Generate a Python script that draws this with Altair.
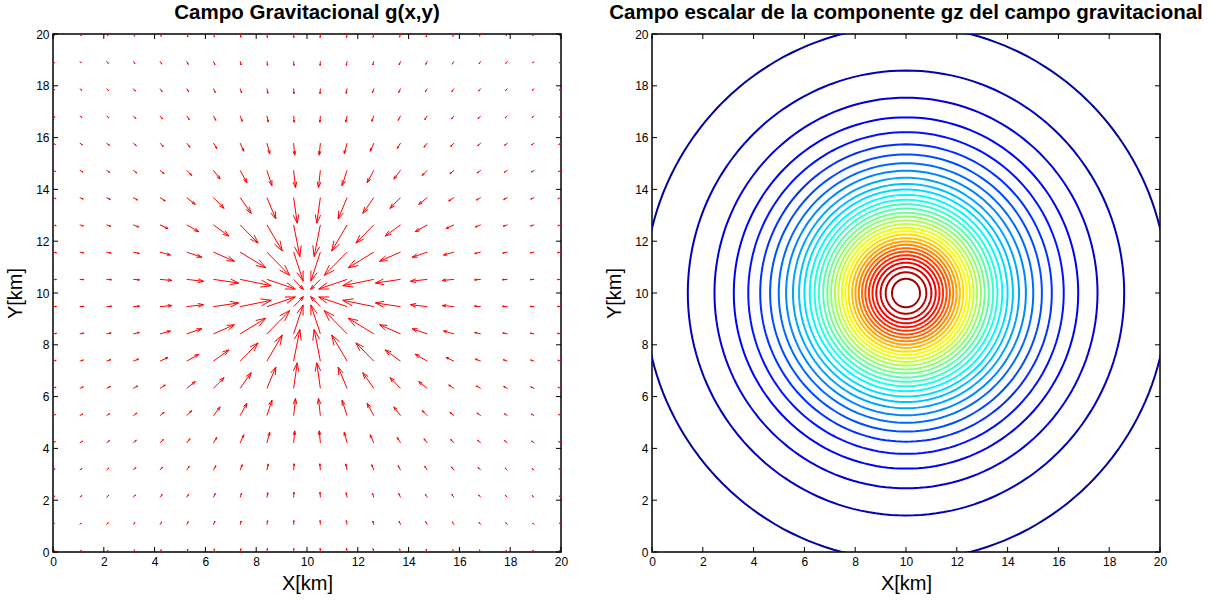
import math
import altair as alt
import pandas as pd

# ---------------- data ----------------
# quiver grid (20 x 20 points over 0..20 km)
grid_km = [0.0, 1.053, 2.105, 3.158, 4.211, 5.263, 6.316, 7.368, 8.421, 9.474,
           10.526, 11.579, 12.632, 13.684, 14.737, 15.789, 16.842, 17.895, 18.947, 20.0]
center_km = [10.0, 10.0]

# arrow length (km) by offset index from the centre (index 0 = nearest column/row)
arrow_len_km = [
    [0.55, 1.18, 1.25, 1.00, 0.67, 0.47, 0.25, 0.20, 0.16, 0.14],
    [1.18, 1.27, 1.18, 0.90, 0.63, 0.43, 0.25, 0.19, 0.16, 0.14],
    [1.25, 1.18, 1.00, 0.75, 0.55, 0.35, 0.23, 0.18, 0.15, 0.13],
    [1.00, 0.90, 0.75, 0.59, 0.43, 0.25, 0.20, 0.17, 0.15, 0.13],
    [0.67, 0.63, 0.55, 0.43, 0.28, 0.21, 0.18, 0.15, 0.14, 0.12],
    [0.47, 0.43, 0.35, 0.25, 0.21, 0.19, 0.16, 0.15, 0.13, 0.11],
    [0.25, 0.25, 0.23, 0.20, 0.18, 0.16, 0.15, 0.13, 0.11, 0.10],
    [0.20, 0.19, 0.18, 0.17, 0.15, 0.15, 0.13, 0.12, 0.11, 0.09],
    [0.16, 0.16, 0.15, 0.15, 0.14, 0.13, 0.11, 0.11, 0.09, 0.09],
    [0.14, 0.14, 0.13, 0.13, 0.12, 0.11, 0.10, 0.09, 0.09, 0.08],
]

# contour radii (km) from outermost (lowest gz level) to innermost (highest)
contour_radii_km = [10.31, 8.59, 7.54, 6.78, 6.21, 5.74, 5.35, 5.01, 4.72, 4.45,
                    4.21, 4.00, 3.79, 3.60, 3.43, 3.26, 3.10, 2.95, 2.80, 2.66,
                    2.52, 2.39, 2.26, 2.12, 1.99, 1.86, 1.73, 1.60, 1.46, 1.32,
                    1.17, 1.00, 0.80, 0.55]
n_level_steps = 35

tick_values = [0, 2, 4, 6, 8, 10, 12, 14, 16, 18, 20]
title_left = "Campo Gravitacional g(x,y)"
title_right = "Campo escalar de la componente gz del campo gravitacional"
jet_stops = [0.0, 0.125, 0.375, 0.625, 0.875, 1.0]
jet_colors = ["#000080", "#0000ff", "#00ffff", "#ffff00", "#ff0000", "#800000"]

# ---------------- build tables ----------------
W, H = 508, 518
FONT = "Liberation Sans"

segs = []
alpha, beta = 0.33, 0.33
for gi, x in enumerate(grid_km):
    ki = 9 - gi if gi < 10 else gi - 10
    for gj, y in enumerate(grid_km):
        kj = 9 - gj if gj < 10 else gj - 10
        L = arrow_len_km[ki][kj]
        dx, dy = center_km[0] - x, center_km[1] - y
        r = math.hypot(dx, dy)
        u, v = L * dx / r, L * dy / r
        tx, ty = x + u, y + v
        segs.append(dict(x=x, y=y, x2=tx, y2=ty))
        segs.append(dict(x=tx, y=ty, x2=tx - alpha * (u + beta * v), y2=ty - alpha * (v - beta * u)))
        segs.append(dict(x=tx, y=ty, x2=tx - alpha * (u - beta * v), y2=ty - alpha * (v + beta * u)))
seg_df = pd.DataFrame(segs)

rows = []
for k, rad in enumerate(contour_radii_km, start=1):
    for a in range(0, 361, 2):
        th = math.radians(a)
        rows.append(dict(k=k, a=a, x=center_km[0] + rad * math.cos(th),
                         y=center_km[1] + rad * math.sin(th), t=k / n_level_steps))
cont_df = pd.DataFrame(rows)

tick_df = pd.DataFrame({"x": tick_values, "y": tick_values})

xs = alt.Scale(domain=[0, 20], nice=False, zero=False)
ys = alt.Scale(domain=[0, 20], nice=False, zero=False)


def axis(title, tpad):
    return alt.Axis(title=title, values=tick_values, ticks=False, domain=False, grid=False,
                    labelFontSize=12, titleFontSize=20, titleFontWeight="normal",
                    labelFont=FONT, titleFont=FONT, labelColor="black", titleColor="black",
                    labelPadding=4, titlePadding=tpad, labelFlush=False, labelOverlap=False)


XAX = axis("X[km]", 6)
YAX = axis("Y[km]", 10)


def tick_layers():
    base = alt.Chart(tick_df).mark_rule(color="black", strokeWidth=1)
    b = base.encode(x=alt.X("x:Q", scale=xs, axis=XAX), y=alt.value(H), y2=alt.value(H - 5))
    t = base.encode(x=alt.X("x:Q", scale=xs, axis=XAX), y=alt.value(0), y2=alt.value(5))
    l = base.encode(y=alt.Y("y:Q", scale=ys, axis=YAX), x=alt.value(0), x2=alt.value(5))
    r = base.encode(y=alt.Y("y:Q", scale=ys, axis=YAX), x=alt.value(W - 5), x2=alt.value(W))
    return [b, t, l, r]


def ptitle(text):
    return alt.TitleParams(text=text, fontSize=20.5, fontWeight="bold", font=FONT,
                           color="black", anchor="middle", offset=5)


arrows = alt.Chart(seg_df).mark_rule(color="#ff0000", strokeWidth=1).encode(
    x=alt.X("x:Q", scale=xs, axis=XAX),
    y=alt.Y("y:Q", scale=ys, axis=YAX),
    x2="x2:Q", y2="y2:Q",
)
left = alt.layer(arrows, *tick_layers()).properties(width=W, height=H, title=ptitle(title_left))

contours = alt.Chart(cont_df).mark_line(clip=True, strokeWidth=2).encode(
    x=alt.X("x:Q", scale=xs, axis=XAX),
    y=alt.Y("y:Q", scale=ys, axis=YAX),
    detail="k:N",
    order="a:Q",
    color=alt.Color("t:Q", scale=alt.Scale(domain=jet_stops, range=jet_colors, interpolate="rgb"),
                    legend=None),
)
right = alt.layer(contours, *tick_layers()).properties(width=W, height=H, title=ptitle(title_right))

chart = alt.hconcat(left, right, spacing=34).properties(
    padding={"left": 4, "top": 1, "right": 0, "bottom": 0}
).configure_view(stroke="black", strokeWidth=1.5)

chart.save("out.html", embed_options={"renderer": "svg", "actions": False})
